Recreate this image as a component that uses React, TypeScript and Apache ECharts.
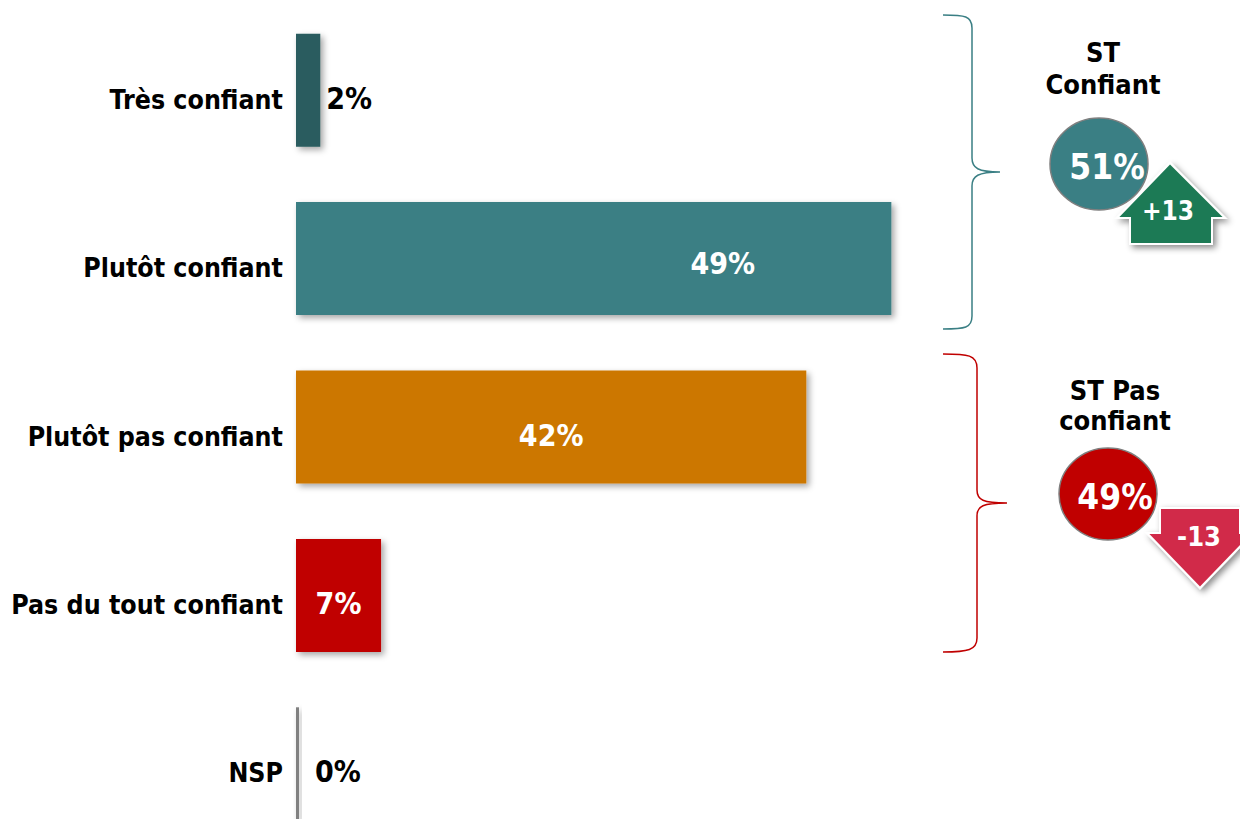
import React, { useEffect, useRef } from "react";
import * as echarts from "echarts";

const categories = ["Très confiant", "Plutôt confiant", "Plutôt pas confiant", "Pas du tout confiant", "NSP"];
const values = [2, 49, 42, 7, 0];
const barColors = ["#2A5C5E", "#3A7F84", "#CC7704", "#C00000", "#808080"];
const groupTitles = ["ST\nConfiant", "ST Pas\nconfiant"];
const groupTotals = [51, 49];
const groupChanges = [13, -13];

const FONT = "'DejaVu Sans Condensed', 'DejaVu Sans', sans-serif";

echarts.graphic.registerShape(
  "braceTeal",
  echarts.graphic.extendPath(
    "M943,15 C965,15 972,16 972,28 L972,158 C972,168 978,172 1000,172 C978,172 972,176 972,186 L972,316 C972,328 965,329 943,329",
    {}
  )
);
echarts.graphic.registerShape(
  "braceRed",
  echarts.graphic.extendPath(
    "M943,354 C968,354 977,355 977,368 L977,490 C977,500 983,503 1007,503 C983,503 977,506 977,516 L977,638 C977,650 968,652 943,652",
    {}
  )
);

export default function App() {
  const ref = useRef<HTMLDivElement>(null);
  useEffect(() => {
    if (!ref.current) return;
    const chart = echarts.init(ref.current, null, { renderer: "svg" });
    const outside = (v: number) => v < 5;
    const fmtChange = (v: number) => (v > 0 ? "+" + v : String(v));
    chart.setOption({
      animation: false,
      backgroundColor: "#ffffff",
      grid: {
        left: 296,
        width: 729,
        top: 6,
        height: 842,
        containLabel: false,
        outerBoundsMode: "none",
      },
      xAxis: {
        type: "value",
        min: 0,
        max: 60,
        show: false,
      },
      yAxis: {
        type: "category",
        data: categories,
        inverse: true,
        axisLine: { show: false },
        axisTick: { show: false },
        splitLine: { show: false },
        axisLabel: {
          color: "#000",
          fontFamily: FONT,
          fontWeight: "bold",
          fontSize: 26.5,
          margin: 13,
          verticalAlign: "top",
          lineHeight: 18,
        },
      },
      series: [
        {
          type: "bar",
          barWidth: 113,
          barMinHeight: 3,
          data: values.map((v, i) => ({
            value: v,
            itemStyle: { color: barColors[i] },
            label: {
              position: outside(v) ? "right" : "inside",
              color: outside(v) ? "#000" : "#fff",
              distance: outside(v) ? (v === 0 ? 16 : 6) : 5,
              offset: i === 1 ? [129, 5] : [0, 8],
            },
          })),
          itemStyle: {
            shadowColor: "rgba(0,0,0,0.35)",
            shadowBlur: 6,
            shadowOffsetX: 3,
            shadowOffsetY: 3,
          },
          label: {
            show: true,
            formatter: "{c}%",
            fontFamily: FONT,
            fontWeight: "bold",
            fontSize: 30,
          },
        },
      ],
      graphic: [
        { type: "braceTeal", style: { fill: "none", stroke: "#3A7F84", lineWidth: 1.5 } },
        { type: "braceRed", style: { fill: "none", stroke: "#C00000", lineWidth: 1.5 } },
        {
          type: "text",
          x: 1103,
          y: 68,
          style: {
            text: groupTitles[0],
            fill: "#000",
            font: `bold 27px ${FONT}`,
            align: "center",
            verticalAlign: "middle",
            lineHeight: 32,
          },
        },
        {
          type: "text",
          x: 1115,
          y: 405,
          style: {
            text: groupTitles[1],
            fill: "#000",
            font: `bold 27px ${FONT}`,
            align: "center",
            verticalAlign: "middle",
            lineHeight: 30,
          },
        },
        {
          type: "ellipse",
          shape: { cx: 1099, cy: 164, rx: 49, ry: 46 },
          style: { fill: "#3A7F84", stroke: "#7f7f7f", lineWidth: 1.5 },
          z: 10,
        },
        {
          type: "polygon",
          shape: {
            points: [
              [1170, 163],
              [1225, 218],
              [1212, 218],
              [1212, 244],
              [1130, 244],
              [1130, 218],
              [1117, 218],
            ],
          },
          style: {
            fill: "#1F7A55",
            stroke: "#fff",
            lineWidth: 2,
            shadowColor: "rgba(0,0,0,0.45)",
            shadowBlur: 6,
            shadowOffsetX: 3,
            shadowOffsetY: 3,
          },
          z: 11,
        },
        {
          type: "text",
          x: 1107,
          y: 167,
          z: 12,
          style: {
            text: groupTotals[0] + "%",
            fill: "#fff",
            font: `bold 35px ${FONT}`,
            align: "center",
            verticalAlign: "middle",
          },
        },
        {
          type: "text",
          x: 1168,
          y: 211,
          z: 12,
          style: {
            text: fmtChange(groupChanges[0]),
            fill: "#fff",
            font: `bold 26px ${FONT}`,
            align: "center",
            verticalAlign: "middle",
          },
        },
        {
          type: "ellipse",
          shape: { cx: 1108, cy: 494, rx: 49, ry: 46 },
          style: { fill: "#C00000", stroke: "#7f7f7f", lineWidth: 1.5 },
          z: 10,
        },
        {
          type: "polygon",
          shape: {
            points: [
              [1160, 508],
              [1240, 508],
              [1240, 533],
              [1253, 533],
              [1200, 588],
              [1147, 533],
              [1160, 533],
            ],
          },
          style: {
            fill: "#D12C49",
            stroke: "#fff",
            lineWidth: 2,
            shadowColor: "rgba(0,0,0,0.45)",
            shadowBlur: 6,
            shadowOffsetX: 3,
            shadowOffsetY: 3,
          },
          z: 11,
        },
        {
          type: "text",
          x: 1115,
          y: 497,
          z: 12,
          style: {
            text: groupTotals[1] + "%",
            fill: "#fff",
            font: `bold 35px ${FONT}`,
            align: "center",
            verticalAlign: "middle",
          },
        },
        {
          type: "text",
          x: 1199,
          y: 536,
          z: 12,
          style: {
            text: fmtChange(groupChanges[1]),
            fill: "#fff",
            font: `bold 27px ${FONT}`,
            align: "center",
            verticalAlign: "middle",
          },
        },
      ],
    });
    return () => chart.dispose();
  }, []);
  return (
    <div
      ref={ref}
      style={{ position: "fixed", left: 0, top: 0, width: 1240, height: 819, background: "#fff" }}
    />
  );
}
